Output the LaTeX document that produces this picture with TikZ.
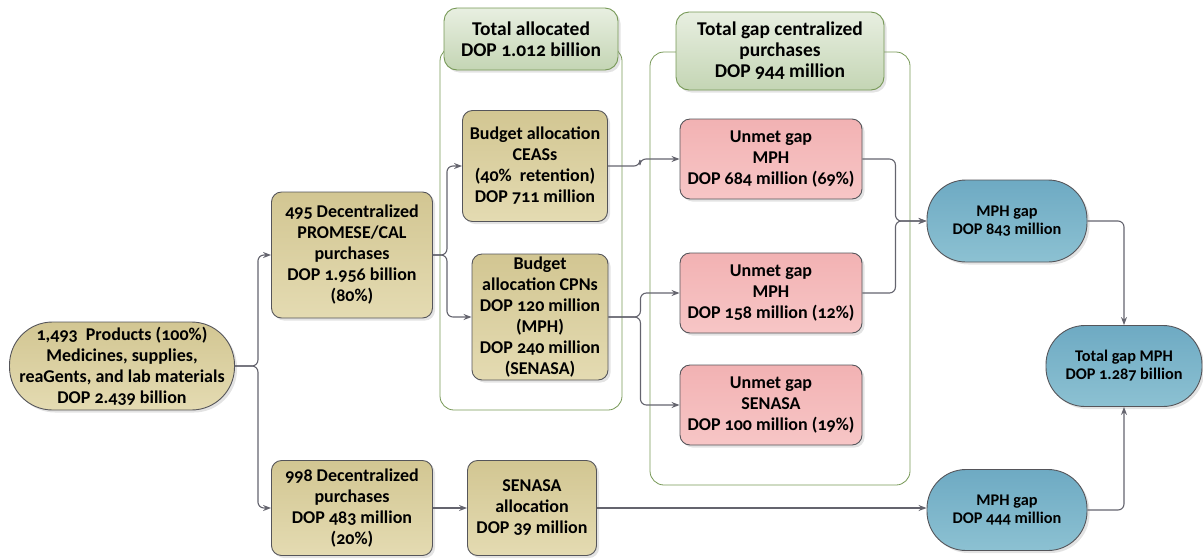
\documentclass[tikz,border=0pt]{standalone}
\usepackage{fontspec}
\setmainfont{Carlito}[Numbers=OldStyle]
\usetikzlibrary{arrows.meta,shadows}
\definecolor{tanA}{RGB}{210,198,146}
\definecolor{tanB}{RGB}{228,219,178}
\definecolor{redA}{RGB}{242,178,179}
\definecolor{redB}{RGB}{247,198,198}
\definecolor{bluA}{RGB}{110,170,195}
\definecolor{bluB}{RGB}{140,193,210}
\definecolor{grnA}{RGB}{232,239,225}
\definecolor{grnB}{RGB}{196,213,180}
\definecolor{grnline}{RGB}{118,152,86}
\definecolor{edgegray}{RGB}{85,85,90}
\definecolor{linkgray}{RGB}{100,100,110}
\begin{document}
\begin{tikzpicture}[x=1pt,y=-1pt,
  box/.style={draw=edgegray,line width=0.9pt,rounded corners=10pt,align=center,inner sep=1pt,
    font=\fontsize{18}{21}\selectfont\bfseries,
    drop shadow={shadow xshift=2.5pt,shadow yshift=-2.5pt,opacity=0.22}},
  tanbox/.style={box,top color=tanA,bottom color=tanB},
  redbox/.style={box,top color=redA,bottom color=redB,minimum width=182pt,minimum height=80pt},
  pill/.style={box,rounded corners=39pt,top color=bluA,bottom color=bluB,
    font=\fontsize{16.3}{18}\selectfont\bfseries},
  title/.style={box,draw=grnline,rounded corners=13pt,top color=grnA,bottom color=grnB,
    font=\fontsize{19.5}{21}\selectfont\bfseries},
  group/.style={draw=grnline,line width=0.8pt,rounded corners=14pt},
  link/.style={draw=linkgray,line width=1.1pt,rounded corners=6pt,-{Stealth[length=8pt,width=6pt]}}]
\useasboundingbox (0,0) rectangle (1203,558);

% groups
\draw[group] (440,47) rectangle (622,410);
\draw[group] (650,52) rectangle (910,485);
\node[title,minimum width=174pt,minimum height=62pt] (G1) at (531,39) {Total allocated\\DOP 1.012 billion};
\node[title,minimum width=208pt,minimum height=78pt] (G2) at (780,51) {Total gap centralized\\purchases\\DOP 944 million};

% nodes
\node[tanbox,rounded corners=43pt,minimum width=225pt,minimum height=88pt] (A) at (122,366)
  {1,493~ Products (100\%)\\Medicines, supplies,\\reaGents, and lab materials\\DOP 2.439 billion};
\node[tanbox,minimum width=161pt,minimum height=126pt] (B) at (352,255)
  {495 Decentralized\\PROMESE/CAL\\purchases\\DOP 1.956 billion\\(80\%)};
\node[tanbox,minimum width=161pt,minimum height=95pt] (C) at (352,508)
  {998 Decentralized\\purchases\\DOP 483 million\\(20\%)};
\node[tanbox,minimum width=145pt,minimum height=111pt] (D) at (535,166)
  {Budget allocation\\CEASs\\(40\%~ retention)\\DOP 711 million};
\node[tanbox,minimum width=136pt,minimum height=126pt] (E) at (540,317)
  {Budget\\allocation CPNs\\DOP 120 million\\(MPH)\\DOP 240 million\\(SENASA)};
\node[tanbox,minimum width=129pt,minimum height=95pt] (F) at (532,508)
  {SENASA\\allocation\\DOP 39 million};
\node[redbox] (H1) at (771,159) {Unmet gap\\MPH\\DOP 684 million (69\%)};
\node[redbox] (H2) at (771,293) {Unmet gap\\MPH\\DOP 158 million (12\%)};
\node[redbox] (H3) at (771,405) {Unmet gap\\SENASA\\DOP 100 million (19\%)};
\node[pill,minimum width=160pt,minimum height=82pt] (I1) at (1007,221) {MPH gap\\DOP 843 million};
\node[pill,minimum width=156pt,minimum height=81pt] (I2) at (1124,366) {Total gap MPH\\DOP 1.287 billion};
\node[pill,minimum width=160pt,minimum height=81pt] (I3) at (1007,510) {MPH gap\\DOP 444 million};

% connectors
\draw[link] (A.east) -- ++(23,0) |- (B.west);
\draw[link] (A.east) -- ++(23,0) |- (C.west);
\draw[link] (B.east) -- ++(14,0) |- (D.west);
\draw[link] (B.east) -- ++(14,0) |- (E.west);
\draw[link] (C.east) -- (F.west);
\draw[link] (D.east) -- ++(32,0) |- (H1.west);
\draw[link] (E.east) -- ++(32,0) |- (H2.west);
\draw[link] (E.east) -- ++(32,0) |- (H3.west);
\draw[link] (H1.east) -- ++(33,0) |- (I1.west);
\draw[link] (H2.east) -- ++(33,0) |- (I1.west);
\draw[link] (F.east) -- (F.east -| I3.west);
\draw[link] (I1.east) -| (I2.north);
\draw[link] (I3.east) -| (I2.south);
\end{tikzpicture}
\end{document}
